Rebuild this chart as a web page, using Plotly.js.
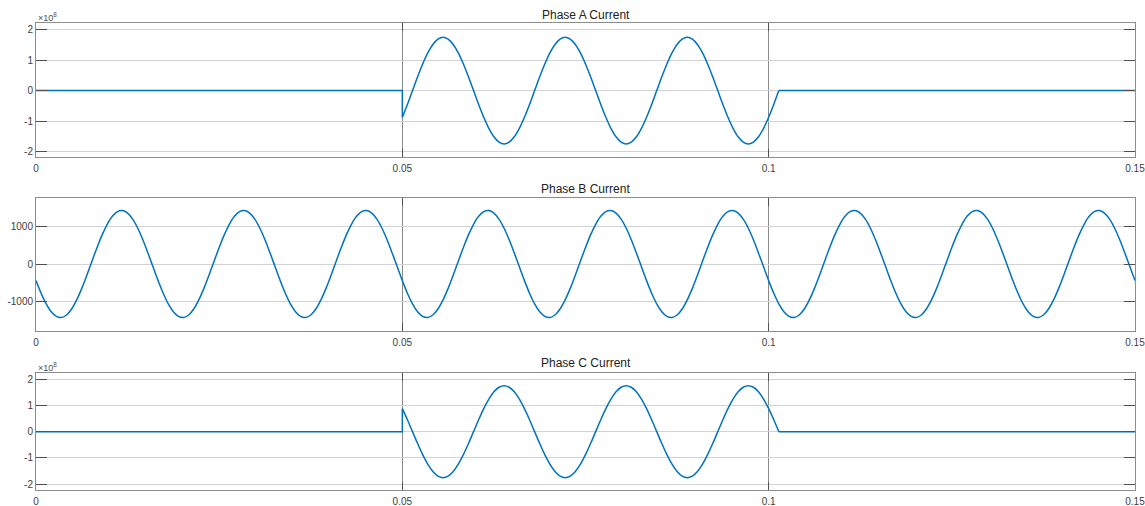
<!DOCTYPE html>
<html>
<head>
<meta charset="utf-8">
<script src="https://cdn.plot.ly/plotly-3.0.1.min.js"></script>
<style>html,body{margin:0;padding:0;background:#fff;}#chart{width:1145px;height:506px;}</style>
</head>
<body>
<div id="chart"></div>
<script>
// ---- data ----
const titles = ["Phase A Current", "Phase B Current", "Phase C Current"];
const xTickVals = [0, 0.05, 0.1, 0.15];
const xTickText = ["0", "0.05", "0.1", "0.15"];
const yTickValsAC = [-2e8, -1e8, 0, 1e8, 2e8];
const yTickTextAC = ["-2", "-1", "0", "1", "2"];
const yTickValsB = [-1000, 0, 1000];
const yTickTextB = ["-1000", "0", "1000"];

const sampleStep = 1 / 1440;  // time between read samples (s)
const tStart = 0;
const tFault = 0.05;          // fault inception
const tClear = 0.101389;      // current zero after clearing
const tEnd = 0.15;

// Phase A during fault (A), samples every sampleStep from tFault
const phaseA_fault = [
  -0.875e8, -0.453e8, 0, 0.453e8, 0.875e8, 1.237e8, 1.516e8, 1.690e8, 1.75e8, 1.690e8, 1.516e8, 1.237e8,
  0.875e8, 0.453e8, 0, -0.453e8, -0.875e8, -1.237e8, -1.516e8, -1.690e8, -1.75e8, -1.690e8, -1.516e8, -1.237e8,
  -0.875e8, -0.453e8, 0, 0.453e8, 0.875e8, 1.237e8, 1.516e8, 1.690e8, 1.75e8, 1.690e8, 1.516e8, 1.237e8,
  0.875e8, 0.453e8, 0, -0.453e8, -0.875e8, -1.237e8, -1.516e8, -1.690e8, -1.75e8, -1.690e8, -1.516e8, -1.237e8,
  -0.875e8, -0.453e8, 0, 0.453e8, 0.875e8, 1.237e8, 1.516e8, 1.690e8, 1.75e8, 1.690e8, 1.516e8, 1.237e8,
  0.875e8, 0.453e8, 0, -0.453e8, -0.875e8, -1.237e8, -1.516e8, -1.690e8, -1.75e8, -1.690e8, -1.516e8, -1.237e8,
  -0.875e8, -0.453e8, 0
];
// Phase C during fault (A)
const phaseC_fault = [
  0.875e8, 0.453e8, 0, -0.453e8, -0.875e8, -1.237e8, -1.516e8, -1.690e8, -1.75e8, -1.690e8, -1.516e8, -1.237e8,
  -0.875e8, -0.453e8, 0, 0.453e8, 0.875e8, 1.237e8, 1.516e8, 1.690e8, 1.75e8, 1.690e8, 1.516e8, 1.237e8,
  0.875e8, 0.453e8, 0, -0.453e8, -0.875e8, -1.237e8, -1.516e8, -1.690e8, -1.75e8, -1.690e8, -1.516e8, -1.237e8,
  -0.875e8, -0.453e8, 0, 0.453e8, 0.875e8, 1.237e8, 1.516e8, 1.690e8, 1.75e8, 1.690e8, 1.516e8, 1.237e8,
  0.875e8, 0.453e8, 0, -0.453e8, -0.875e8, -1.237e8, -1.516e8, -1.690e8, -1.75e8, -1.690e8, -1.516e8, -1.237e8,
  -0.875e8, -0.453e8, 0, 0.453e8, 0.875e8, 1.237e8, 1.516e8, 1.690e8, 1.75e8, 1.690e8, 1.516e8, 1.237e8,
  0.875e8, 0.453e8, 0
];
// Phase B (A), samples every sampleStep from tStart
const phaseB = [
  -437, -770, -1051, -1260, -1383, -1412, -1345, -1186, -946, -642, -294, 74, 437, 770, 1051, 1260, 1383, 1412, 1345, 1186, 946, 642, 294, -74,
  -437, -770, -1051, -1260, -1383, -1412, -1345, -1186, -946, -642, -294, 74, 437, 770, 1051, 1260, 1383, 1412, 1345, 1186, 946, 642, 294, -74,
  -437, -770, -1051, -1260, -1383, -1412, -1345, -1186, -946, -642, -294, 74, 437, 770, 1051, 1260, 1383, 1412, 1345, 1186, 946, 642, 294, -74,
  -437, -770, -1051, -1260, -1383, -1412, -1345, -1186, -946, -642, -294, 74, 437, 770, 1051, 1260, 1383, 1412, 1345, 1186, 946, 642, 294, -74,
  -437, -770, -1051, -1260, -1383, -1412, -1345, -1186, -946, -642, -294, 74, 437, 770, 1051, 1260, 1383, 1412, 1345, 1186, 946, 642, 294, -74,
  -437, -770, -1051, -1260, -1383, -1412, -1345, -1186, -946, -642, -294, 74, 437, 770, 1051, 1260, 1383, 1412, 1345, 1186, 946, 642, 294, -74,
  -437, -770, -1051, -1260, -1383, -1412, -1345, -1186, -946, -642, -294, 74, 437, 770, 1051, 1260, 1383, 1412, 1345, 1186, 946, 642, 294, -74,
  -437, -770, -1051, -1260, -1383, -1412, -1345, -1186, -946, -642, -294, 74, 437, 770, 1051, 1260, 1383, 1412, 1345, 1186, 946, 642, 294, -74,
  -437, -770, -1051, -1260, -1383, -1412, -1345, -1186, -946, -642, -294, 74, 437, 770, 1051, 1260, 1383, 1412, 1345, 1186, 946, 642, 294, -74,
  -437
];

// ---- drawing ----
const lineColor = "#0072BD";
const lw = 1.5;
function seg(x, y, xa, ya) {
  return {type: "scatter", mode: "lines", x: x, y: y, xaxis: xa, yaxis: ya,
          line: {color: lineColor, width: lw}, hoverinfo: "skip", showlegend: false};
}
function wave(y, x0, xa, ya) {
  return {type: "scatter", mode: "lines", y: y, x0: x0, dx: sampleStep, xaxis: xa, yaxis: ya,
          line: {color: lineColor, width: lw, shape: "spline", smoothing: 1}, hoverinfo: "skip", showlegend: false};
}

const traces = [
  seg([tStart, tFault, tFault], [0, 0, phaseA_fault[0]], "x", "y"),
  wave(phaseA_fault, tFault, "x", "y"),
  seg([tClear, tEnd], [0, 0], "x", "y"),
  wave(phaseB, tStart, "x2", "y2"),
  seg([tStart, tFault, tFault], [0, 0, phaseC_fault[0]], "x3", "y3"),
  wave(phaseC_fault, tFault, "x3", "y3"),
  seg([tClear, tEnd], [0, 0], "x3", "y3")
];

const W = 1145, H = 506;
const xDom = [36 / W, 1135 / W];
function yd(topPx, botPx) { return [1 - botPx / H, 1 - topPx / H]; }
const font = {family: "Liberation Sans, Arial, sans-serif", size: 10, color: "#404040"};

function xAxis(anchor) {
  return {domain: xDom, range: [0, 0.15], anchor: anchor, tickvals: xTickVals, ticktext: xTickText,
    showgrid: true, gridcolor: "#8a8a8a", gridwidth: 1, zeroline: false,
    showline: true, linecolor: "#8c8c8c", linewidth: 1, mirror: "ticks",
    ticks: "inside", ticklen: 8, tickcolor: "#505050", tickfont: font, ticklabelstandoff: 2,
    ticklabeloverflow: "allow"};
}
function yAxis(anchor, dom, range, tv, tt) {
  return {domain: dom, range: range, anchor: anchor, tickvals: tv, ticktext: tt,
    showgrid: true, gridcolor: "#d2d2d2", gridwidth: 1, zeroline: false,
    showline: true, linecolor: "#8c8c8c", linewidth: 1, mirror: "ticks",
    ticks: "inside", ticklen: 11, tickcolor: "#505050", tickfont: font, ticklabeloverflow: "allow"};
}

const titleFont = {family: "Liberation Sans, Arial, sans-serif", size: 12, color: "#222222"};
const expFont = {family: "Liberation Sans, Arial, sans-serif", size: 9, color: "#505050"};
const midX = (xDom[0] + xDom[1]) / 2;

const layout = {
  width: W, height: H, margin: {l: 0, r: 0, t: 0, b: 0},
  paper_bgcolor: "#ffffff", plot_bgcolor: "#ffffff", showlegend: false,
  xaxis: xAxis("y"),
  yaxis: yAxis("x", yd(23.3, 157), [-2.18e8, 2.21e8], yTickValsAC, yTickTextAC),
  xaxis2: xAxis("y2"),
  yaxis2: yAxis("x2", yd(197.8, 330.7), [-1760, 1750], yTickValsB, yTickTextB),
  xaxis3: xAxis("y3"),
  yaxis3: yAxis("x3", yd(373.3, 490), [-2.22e8, 2.22e8], yTickValsAC, yTickTextAC),
  annotations: [
    {text: titles[0], xref: "paper", yref: "paper", x: midX, y: 1 - 15 / H, xanchor: "center", yanchor: "middle", showarrow: false, font: titleFont},
    {text: titles[1], xref: "paper", yref: "paper", x: midX, y: 1 - 189 / H, xanchor: "center", yanchor: "middle", showarrow: false, font: titleFont},
    {text: titles[2], xref: "paper", yref: "paper", x: midX, y: 1 - 363 / H, xanchor: "center", yanchor: "middle", showarrow: false, font: titleFont},
    {text: "×10<sup>8</sup>", xref: "paper", yref: "paper", x: 36 / W, y: 1 - 17 / H, xanchor: "left", yanchor: "middle", showarrow: false, font: expFont},
    {text: "×10<sup>8</sup>", xref: "paper", yref: "paper", x: 36 / W, y: 1 - 367 / H, xanchor: "left", yanchor: "middle", showarrow: false, font: expFont}
  ]
};

Plotly.newPlot("chart", traces, layout, {displayModeBar: false, staticPlot: true});
</script>
</body>
</html>
